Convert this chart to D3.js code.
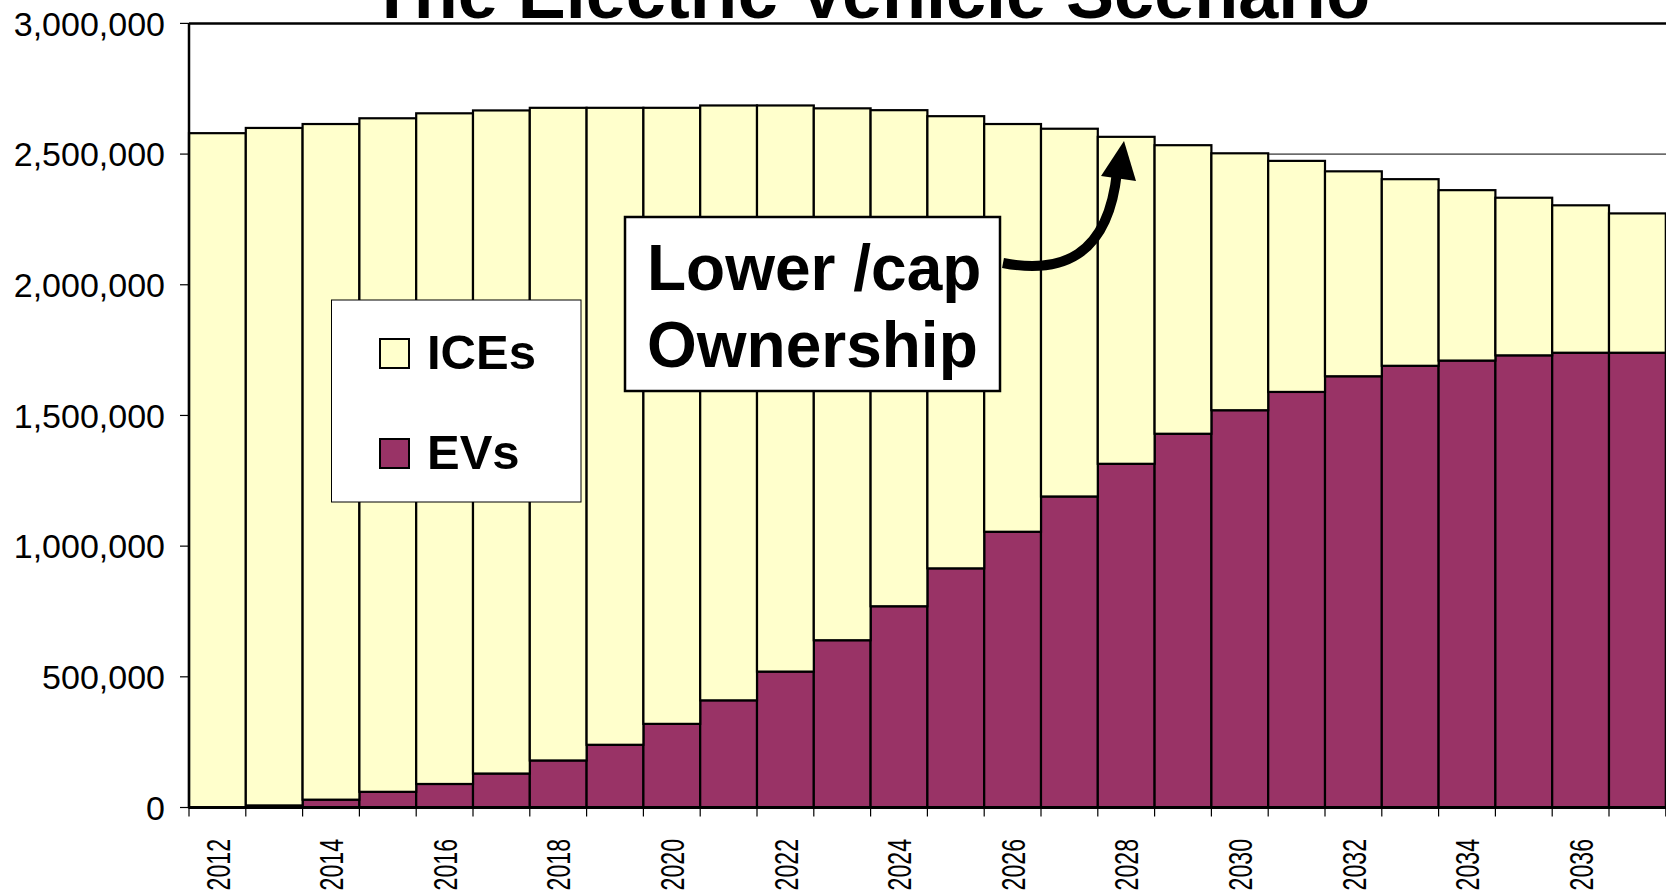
<!doctype html>
<meta charset="utf-8">
<script src="https://d3js.org/d3.v7.min.js"></script>
<style>
  body { margin: 0; background: #fff; }
  text { font-family: Arial, "Liberation Sans", sans-serif; }
</style>
<body></body>
<script>

var width = 1666;
var height = 895;

// data
var years = d3.range(2012, 2038);
var evs  = [0, 8000, 30000, 60000, 90000, 130000, 180000, 240000, 320000, 410000,
            520000, 640000, 770000, 915000, 1055000, 1190000, 1315000, 1430000,
            1520000, 1590000, 1650000, 1690000, 1710000, 1730000, 1740000, 1740000];
var ices = [2580000, 2592000, 2585000, 2577000, 2566000, 2537000, 2497000, 2437000,
            2357000, 2276000, 2166000, 2035000, 1898000, 1730000, 1560000, 1407000,
            1251000, 1104000, 983000, 884000, 784000, 714000, 652000, 603000, 564000, 533000];
var yTicks = [0, 500000, 1000000, 1500000, 2000000, 2500000, 3000000];
var seriesNames = ["EVs", "ICEs"];
var colors = { EVs: "#993366", ICEs: "#ffffcc" };

var rows = years.map(function(y, i) { return { year: y, EVs: evs[i], ICEs: ices[i] }; });

var svg = d3.select("body").append("svg")
    .attr("width", width)
    .attr("height", height);

var plotLeft = 189, plotRight = 189 + 26 * 56.8, plotTop = 23.4, plotBottom = 807.5;

var x = d3.scaleBand()
    .domain(years)
    .range([plotLeft, plotRight])
    .padding(0);

var y = d3.scaleLinear()
    .domain([0, 3000000])
    .range([plotBottom, plotTop]);

// gridlines (behind bars)
svg.append("g").selectAll("line")
    .data(yTicks.filter(function(d) { return d > 0; }))
    .enter().append("line")
    .attr("x1", plotLeft).attr("x2", width)
    .attr("y1", function(d) { return y(d); })
    .attr("y2", function(d) { return y(d); })
    .style("stroke", "#000")
    .style("stroke-width", function(d) { return d === 3000000 ? 2.5 : 1; });

var stack = d3.stack().keys(seriesNames);
var layers = stack(rows);

svg.append("g").selectAll("g")
    .data(layers)
    .enter().append("g")
    .style("fill", function(d) { return colors[d.key]; })
    .selectAll("rect")
    .data(function(d) { return d; })
    .enter().append("rect")
    .attr("x", function(d) { return x(d.data.year); })
    .attr("width", x.bandwidth())
    .attr("y", function(d) { return y(d[1]); })
    .attr("height", function(d) { return y(d[0]) - y(d[1]); })
    .style("stroke", "#000")
    .style("stroke-width", 2.2);

// y axis
var yAxis = svg.append("g");
yAxis.append("line")
    .attr("x1", plotLeft).attr("x2", plotLeft)
    .attr("y1", plotTop).attr("y2", plotBottom)
    .style("stroke", "#000").style("stroke-width", 2.5);
yAxis.selectAll("line.tick")
    .data(yTicks).enter().append("line")
    .attr("class", "tick")
    .attr("x1", plotLeft - 9).attr("x2", plotLeft)
    .attr("y1", function(d) { return y(d); })
    .attr("y2", function(d) { return y(d); })
    .style("stroke", "#000").style("stroke-width", 1.2);
yAxis.selectAll("text")
    .data(yTicks).enter().append("text")
    .attr("x", 165)
    .attr("y", function(d) { return y(d); })
    .attr("dy", "0.36em")
    .attr("text-anchor", "end")
    .style("font-size", "34px")
    .text(function(d) { return d3.format(",")(d); });

// x axis
var xAxis = svg.append("g");
xAxis.append("line")
    .attr("x1", plotLeft).attr("x2", width)
    .attr("y1", plotBottom).attr("y2", plotBottom)
    .style("stroke", "#000").style("stroke-width", 3);
xAxis.selectAll("line.tick")
    .data(years.concat([2038])).enter().append("line")
    .attr("class", "tick")
    .attr("x1", function(d, i) { return plotLeft + i * x.step(); })
    .attr("x2", function(d, i) { return plotLeft + i * x.step(); })
    .attr("y1", plotBottom).attr("y2", plotBottom + 9)
    .style("stroke", "#000").style("stroke-width", 1.2);
xAxis.selectAll("text")
    .data(years.filter(function(d) { return d % 2 === 0; })).enter().append("text")
    .attr("transform", function(d) {
        return "translate(" + (x(d) + x.bandwidth() / 2) + "," + 839 + ") rotate(-90) scale(0.68,1)";
    })
    .attr("dy", "0.36em")
    .attr("text-anchor", "end")
    .style("font-size", "34px")
    .text(function(d) { return d; });

// title (cut off at the top)
svg.append("text")
    .attr("x", 870)
    .attr("y", 18)
    .attr("text-anchor", "middle")
    .style("font-size", "72px")
    .style("font-weight", "bold")
    .text("The Electric Vehicle Scenario");

// legend
var legend = svg.append("g");
legend.append("rect")
    .attr("x", 331.5).attr("y", 300)
    .attr("width", 249.5).attr("height", 202)
    .style("fill", "#fff").style("stroke", "#000").style("stroke-width", 1);
var legendItems = ["ICEs", "EVs"];
legend.selectAll("rect.sw")
    .data(legendItems).enter().append("rect")
    .attr("class", "sw")
    .attr("x", 380).attr("y", function(d, i) { return 339 + i * 100; })
    .attr("width", 29).attr("height", 29)
    .style("fill", function(d) { return colors[d]; })
    .style("stroke", "#000").style("stroke-width", 2);
legend.selectAll("text")
    .data(legendItems).enter().append("text")
    .attr("x", 427).attr("y", function(d, i) { return 369 + i * 100; })
    .style("font-size", "49px")
    .style("font-weight", "bold")
    .text(function(d) { return d; });

// annotation
var note = svg.append("g");
note.append("rect")
    .attr("x", 625).attr("y", 217)
    .attr("width", 375).attr("height", 174)
    .style("fill", "#fff").style("stroke", "#000").style("stroke-width", 2.5);
note.selectAll("text")
    .data(["Lower /cap", "Ownership"]).enter().append("text")
    .attr("x", 647).attr("y", function(d, i) { return 290 + i * 77; })
    .style("font-size", "64px")
    .style("font-weight", "bold")
    .text(function(d) { return d; });

note.append("path")
    .attr("d", "M1003,263 C1060,274 1108,258 1117,172")
    .style("fill", "none").style("stroke", "#000").style("stroke-width", 10);
note.append("path")
    .attr("d", "M1124,141 L1101,176 L1136,181 Z")
    .style("fill", "#000");

</script>
